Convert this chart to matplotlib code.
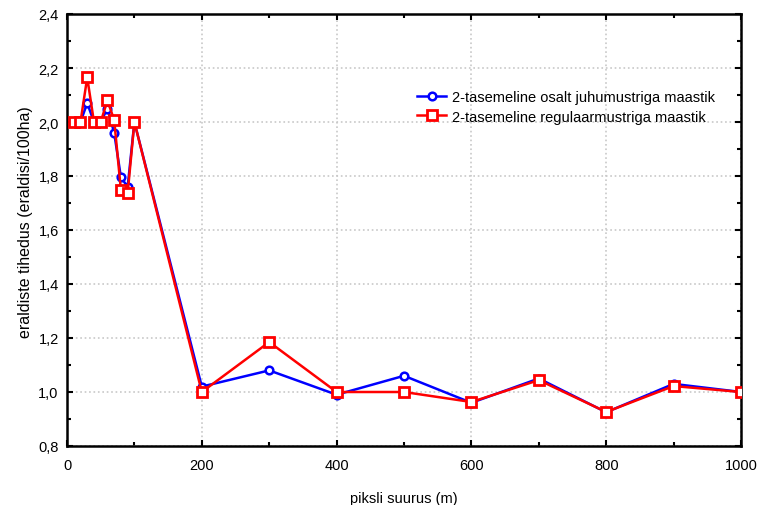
import matplotlib
matplotlib.use("Agg")
import matplotlib.pyplot as plt
from matplotlib.ticker import MultipleLocator, FuncFormatter

x = [10, 20, 30, 40, 50, 60, 70, 80, 90, 100, 200, 300, 400, 500, 600, 700, 800, 900, 1000]
blue = [2.0, 2.0, 2.07, 2.0, 2.0, 2.05, 1.96, 1.795, 1.76, 2.0, 1.02, 1.08, 0.99, 1.06, 0.96, 1.05, 0.925, 1.03, 1.0]
red = [2.0, 2.0, 2.165, 2.0, 2.0, 2.08, 2.007, 1.748, 1.737, 2.0, 1.0, 1.185, 1.0, 1.0, 0.963, 1.044, 0.926, 1.022, 1.0]
blue_label = "2-tasemeline osalt juhumustriga maastik"
red_label = "2-tasemeline regulaarmustriga maastik"
xlabel = "piksli suurus (m)"
ylabel = "eraldiste tihedus (eraldisi/100ha)"

plt.rcParams['font.family'] = ['Liberation Sans', 'DejaVu Sans']

fig = plt.figure(figsize=(7.58, 5.06), dpi=100)
ax = fig.add_axes([67/758, 1-447/506, (741-67)/758, (447-15)/506])

ax.plot(x, blue, color='#0000ff', lw=1.8, marker='o', ms=5.5, mfc='white',
        mec='#0000ff', mew=1.8, label=blue_label, zorder=3)
ax.plot(x, red, color='#ff0000', lw=1.8, marker='s', ms=7, mfc='white',
        mec='#ff0000', mew=2.0, label=red_label, zorder=4)

ax.set_xlim(0, 1000)
ax.set_ylim(0.8, 2.4)
ax.xaxis.set_major_locator(MultipleLocator(200))
ax.xaxis.set_minor_locator(MultipleLocator(100))
ax.yaxis.set_major_locator(MultipleLocator(0.2))
ax.yaxis.set_minor_locator(MultipleLocator(0.1))
ax.yaxis.set_major_formatter(FuncFormatter(lambda v, p: f"{v:.1f}".replace('.', ',')))
ax.tick_params(which='both', direction='in', top=True, right=True, labelsize=10.5,
               width=1.5, color='black')
ax.tick_params(which='major', length=4)
ax.tick_params(which='minor', length=3)
ax.tick_params(axis='x', which='major', pad=9)
ax.tick_params(axis='y', which='major', pad=6)
for s in ax.spines.values():
    s.set_linewidth(1.8)
ax.grid(which='major', color='#c8c8c8', linestyle=':', linewidth=1.2)
ax.set_axisbelow(True)

ax.set_xlabel(xlabel, fontsize=10.5, labelpad=13)
ax.set_ylabel(ylabel, fontsize=11.5, labelpad=4)
ax.yaxis.label.set_y(0.52)

ax.legend(loc='upper left', bbox_to_anchor=(0.5, 0.855), frameon=False, fontsize=10.5,
          handlelength=2.0, handletextpad=0.4, labelspacing=0.4)

fig.savefig("out.png", dpi=100)
